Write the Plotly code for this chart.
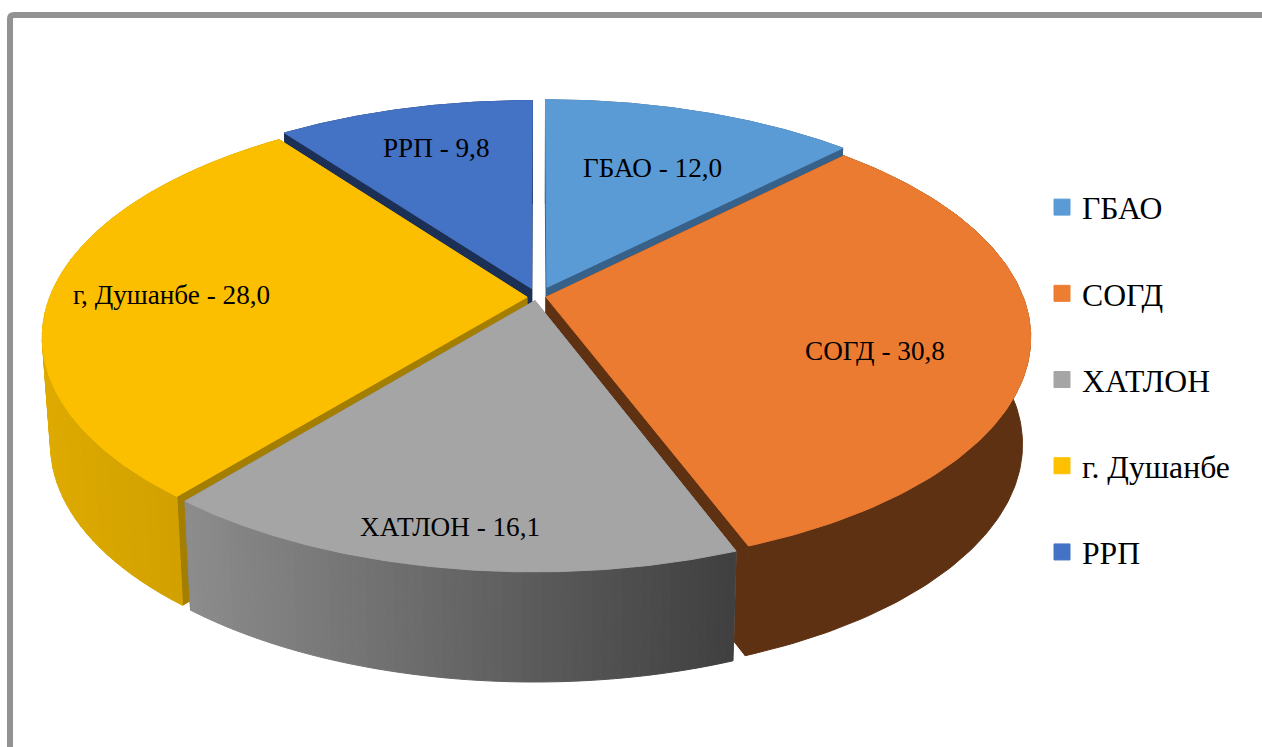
import numpy as np
import plotly.graph_objects as go

categories = ["ГБАО", "СОГД", "ХАТЛОН", "г. Душанбе", "РРП"]
values = [12.0, 30.8, 16.1, 28.0, 9.8]

# styling / layout constants
top_colors = ["#5B9BD5", "#EB7B30", "#A5A5A5", "#FBBF00", "#4472C4"]
legend_colors = ["#5B9BD5", "#ED7D31", "#A5A5A5", "#FFC000", "#4472C4"]
face_colors = ["#38618A", "#5F3113", "#7F7F7F", "#A37E00", "#1C2F55"]
wall_left = ["#38618A", "#5F3113", "#8C8C8C", "#DEAA00", "#1C2F55"]
wall_right = ["#38618A", "#5F3113", "#3F3F3F", "#C79A00", "#1C2F55"]
explode_px = [(10, 0.03), (9, -0.014), (-2, -0.03), (-10, -0.014), (-5.5, 0.025)]
draw_order = [4, 0, 3, 1, 2]
label_xy = [(652, 168), (875, 351), (450, 527), (171, 295), (436, 148)]

CX = 537
TOP = dict(a=476.0, b=222.0, k=0.172, c=294.0)
BOT = dict(a=468.0, b=225.0, k=0.173, c=400.0)


def project(x, d, p):
    s = 1.0 / (1.0 + p["k"] * d)
    return CX + p["a"] * x * s, p["c"] - p["b"] * d * s


def hex2rgb(h):
    return np.array([int(h[i:i + 2], 16) for i in (1, 3, 5)], dtype=float)


def blend(c0, c1, t):
    v = hex2rgb(c0) * (1 - t) + hex2rgb(c1) * t
    return "rgb(%d,%d,%d)" % tuple(v.round().astype(int))


def poly(xs, ys, color):
    return go.Scatter(x=list(xs), y=list(ys), mode="lines", fill="toself", fillcolor=color,
                      line=dict(color=color, width=1), hoverinfo="skip", showlegend=False)


total = sum(values)
edges = np.concatenate([[0], np.cumsum(values)]) / total * 2 * np.pi

fig = go.Figure()
for i in draw_order:
    t0, t1 = edges[i], edges[i + 1]
    ox, od = explode_px[i][0] / TOP["a"], explode_px[i][1]
    th = np.linspace(t0, t1, 121)
    x = np.sin(th) + ox
    d = np.cos(th) + od

    tx, ty = project(x, d, TOP)
    bx, by = project(x, d, BOT)
    ax_t, ay_t = project(np.array([ox]), np.array([od]), TOP)
    ax_b, ay_b = project(np.array([ox]), np.array([od]), BOT)

    # radial side faces
    for j in (0, -1):
        fig.add_trace(poly([ax_t[0], tx[j], bx[j], ax_b[0], ax_t[0]],
                           [ay_t[0], ty[j], by[j], ay_b[0], ay_t[0]], face_colors[i]))

    # outer curved wall, split into strips so it can carry a left-to-right shade
    if wall_left[i] == wall_right[i]:
        fig.add_trace(poly(np.r_[tx, bx[::-1], tx[0]], np.r_[ty, by[::-1], ty[0]], wall_left[i]))
    else:
        lo, hi = min(tx.min(), bx.min()), max(tx.max(), bx.max())
        step = 2
        for j in range(0, len(th) - 1, step):
            k = min(j + step, len(th) - 1)
            frac = (0.5 * (tx[j] + tx[k]) - lo) / (hi - lo)
            fig.add_trace(poly([tx[j], tx[k], bx[k], bx[j], tx[j]],
                               [ty[j], ty[k], by[k], by[j], ty[j]],
                               blend(wall_left[i], wall_right[i], frac)))

    # top face
    fig.add_trace(poly(np.r_[ax_t, tx, ax_t], np.r_[ay_t, ty, ay_t], top_colors[i]))

# legend entries
for cat, col in zip(categories, legend_colors):
    fig.add_trace(go.Scatter(x=[None], y=[None], mode="markers", name=cat, legendgroup=cat,
                             marker=dict(symbol="square", size=16, color=col,
                                         line=dict(color=col, width=1))))

annotations = [
    dict(x=px, y=py, text=f"{c} - {v:.1f}".replace(".", ","), showarrow=False,
         xref="x", yref="y", font=dict(family="Liberation Serif", size=27.2, color="black"))
    for c, v, (px, py) in zip(categories, values, label_xy)
]

fig.update_layout(
    width=1262,
    height=747,
    margin=dict(l=0, r=0, t=0, b=0),
    paper_bgcolor="white",
    plot_bgcolor="white",
    xaxis=dict(range=[0, 1262], visible=False, fixedrange=True),
    yaxis=dict(range=[747, 0], visible=False, fixedrange=True),
    annotations=annotations,
    shapes=[dict(type="path", path="M 10 747 L 10 19 Q 10 15 14 15 L 1262 15",
                 xref="x", yref="y", line=dict(color="#929292", width=6))],
    legend=dict(x=1042 / 1262, y=1 - 180 / 747, xanchor="left", yanchor="top",
                font=dict(family="Liberation Serif", size=31.7, color="black"),
                tracegroupgap=42, bgcolor="rgba(0,0,0,0)", itemsizing="trace",
                traceorder="grouped"),
    showlegend=True,
)

fig.write_html("out.html", config=dict(displayModeBar=False),
               post_script="document.body.style.margin='0';document.body.style.overflow='hidden';")
